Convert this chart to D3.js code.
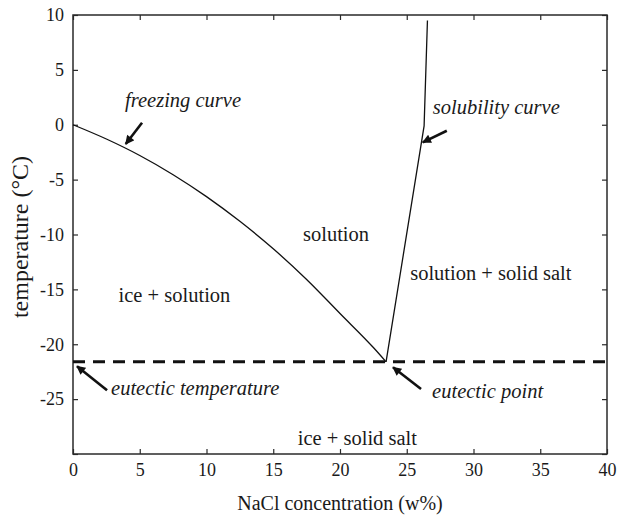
<!DOCTYPE html>
<html>
<head>
<meta charset="utf-8">
<script src="https://cdn.jsdelivr.net/npm/d3@7"></script>
<style>
  body { margin: 0; background: #fff; }
  text { font-family: "Liberation Serif", "Times New Roman", serif; fill: #1a1a1a; }
</style>
</head>
<body>
<svg class="chart" width="619" height="518"></svg>
<script>
// freezing curve (ice / solution boundary)
var freezeX = [0, 2.5, 5, 7.5, 10, 12.5, 15, 17.5, 20, 22.5, 23.45];
var freezeT = [0, -1.3, -2.8, -4.55, -6.55, -8.8, -11.3, -14.1, -17.2, -20.3, -21.6];

// solubility curve (solution / solid salt boundary)
var solX = [23.45, 26.3, 26.55];
var solT = [-21.6, -0.1, 9.5];

var eutecticT = -21.6;

var xTicks = [0, 5, 10, 15, 20, 25, 30, 35, 40];
var yTicks = [10, 5, 0, -5, -10, -15, -20, -25, -30];
var yLabels = ["10", "5", "0", "-5", "-10", "-15", "-20", "-25", ""];

// region names and annotation texts, anchored in data units
var regionText = ["solution", "ice + solution", "solution + solid salt", "ice + solid salt"];
var regionX = [19.7, 7.6, 31.3, 21.3];
var regionT = [-9.9, -15.5, -13.5, -28.5];

var noteText = ["freezing curve", "solubility curve", "eutectic temperature", "eutectic point"];
var noteX = [3.9, 26.95, 2.85, 26.9];
var noteT = [2.25, 1.6, -24.0, -24.2];

// arrows: tail -> head
var arrowX0 = [5.17, 28.0, 2.55, 26.07];
var arrowT0 = [0.18, -0.55, -24.2, -24.08];
var arrowX1 = [3.95, 26.2, 0.3, 23.97];
var arrowT1 = [-1.75, -1.6, -22.0, -22.1];

var svg = d3.select(".chart"),
  margin = { top: 15, right: 12, bottom: 64, left: 73 },
  width = +svg.attr("width") - margin.left - margin.right,
  height = +svg.attr("height") - margin.top - margin.bottom,
  g = svg.append("g").attr("transform", "translate(" + margin.left + "," + margin.top + ")");

var x = d3.scaleLinear().domain([0, 40]).range([0, width]);
var y = d3.scaleLinear().domain([-30, 10]).range([height, 0]);

var axisColor = "#2a2a2a";

function styleAxis(sel) {
  sel.select(".domain").remove();
  sel.selectAll(".tick line").attr("stroke", axisColor).attr("stroke-width", 1.2);
  sel.selectAll(".tick text").attr("font-size", 18).attr("fill", "#1a1a1a");
}

g.append("g")
  .attr("transform", "translate(0," + height + ")")
  .call(d3.axisBottom(x).tickValues(xTicks).tickSizeInner(-5).tickSizeOuter(0).tickPadding(9))
  .call(styleAxis);

g.append("g")
  .call(d3.axisTop(x).tickValues(xTicks).tickSizeInner(-5).tickSizeOuter(0).tickFormat(""))
  .call(styleAxis);

g.append("g")
  .call(d3.axisLeft(y).tickValues(yTicks).tickSizeInner(-5).tickSizeOuter(0).tickPadding(9)
    .tickFormat(function (d, i) { return yLabels[i]; }))
  .call(styleAxis);

g.append("g")
  .attr("transform", "translate(" + width + ",0)")
  .call(d3.axisRight(y).tickValues(yTicks).tickSizeInner(-5).tickSizeOuter(0).tickFormat(""))
  .call(styleAxis);

g.append("rect")
  .attr("width", width)
  .attr("height", height)
  .attr("fill", "none")
  .attr("stroke", axisColor)
  .attr("stroke-width", 1.5);

var line = d3.line()
  .x(function (d) { return x(d[0]); })
  .y(function (d) { return y(d[1]); });

g.append("path")
  .datum(d3.zip(freezeX, freezeT))
  .attr("d", line.curve(d3.curveMonotoneX))
  .attr("fill", "none")
  .attr("stroke", "#111")
  .attr("stroke-width", 1.3);

g.append("path")
  .datum(d3.zip(solX, solT))
  .attr("d", line.curve(d3.curveLinear))
  .attr("fill", "none")
  .attr("stroke", "#111")
  .attr("stroke-width", 1.3);

g.append("line")
  .attr("x1", x(0))
  .attr("x2", x(40))
  .attr("y1", y(eutecticT))
  .attr("y2", y(eutecticT))
  .attr("stroke", "#111")
  .attr("stroke-width", 3)
  .attr("stroke-dasharray", "12,8");

svg.append("defs").append("marker")
  .attr("id", "head")
  .attr("viewBox", "0 -5 10 10")
  .attr("refX", 9)
  .attr("refY", 0)
  .attr("markerWidth", 10)
  .attr("markerHeight", 9)
  .attr("markerUnits", "userSpaceOnUse")
  .attr("orient", "auto")
  .append("path")
  .attr("d", "M0,-5L10,0L0,5Z")
  .attr("fill", "#111");

g.append("g").selectAll("line")
  .data(d3.range(arrowX0.length))
  .enter()
  .append("line")
  .attr("x1", function (i) { return x(arrowX0[i]); })
  .attr("y1", function (i) { return y(arrowT0[i]); })
  .attr("x2", function (i) { return x(arrowX1[i]); })
  .attr("y2", function (i) { return y(arrowT1[i]); })
  .attr("stroke", "#111")
  .attr("stroke-width", 2.6)
  .attr("marker-end", "url(#head)");

g.append("g").selectAll("text")
  .data(regionText)
  .enter()
  .append("text")
  .attr("x", function (d, i) { return x(regionX[i]); })
  .attr("y", function (d, i) { return y(regionT[i]); })
  .attr("dy", "0.35em")
  .attr("text-anchor", "middle")
  .attr("font-size", 20.5)
  .text(function (d) { return d; });

g.append("g").selectAll("text")
  .data(noteText)
  .enter()
  .append("text")
  .attr("x", function (d, i) { return x(noteX[i]); })
  .attr("y", function (d, i) { return y(noteT[i]); })
  .attr("dy", "0.35em")
  .attr("font-size", 20.5)
  .attr("font-style", "italic")
  .text(function (d) { return d; });

svg.append("text")
  .attr("x", margin.left + width / 2)
  .attr("y", 503)
  .attr("dy", "0.35em")
  .attr("text-anchor", "middle")
  .attr("font-size", 20)
  .text("NaCl concentration (w%)");

svg.append("text")
  .attr("transform", "translate(20," + (margin.top + 222) + ") rotate(-90)")
  .attr("dy", "0.35em")
  .attr("text-anchor", "middle")
  .attr("font-size", 24)
  .text("temperature (°C)");
</script>
</body>
</html>
